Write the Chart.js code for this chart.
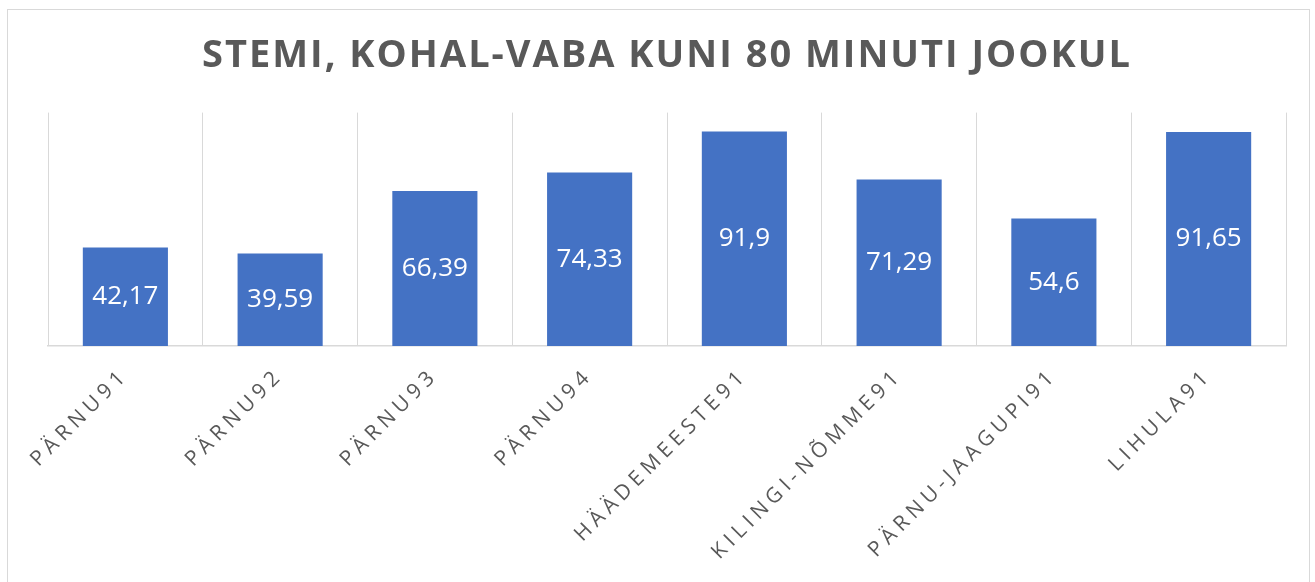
<!DOCTYPE html>
<html>
<head>
<meta charset="utf-8">
<script src="https://cdn.jsdelivr.net/npm/chart.js@4/dist/chart.umd.min.js"></script>
<style>
html, body { margin: 0; padding: 0; background: #fff; }
#wrap { position: relative; width: 1315px; height: 582px; overflow: hidden; }
#frame { position: absolute; left: 7px; top: 9px; width: 1303px; height: 620px; border: 1px solid #d9d9d9; box-sizing: border-box; }
#chart { position: absolute; left: 0; top: 0; }
</style>
</head>
<body>
<div id="wrap">
  <div id="frame"></div>
  <canvas id="chart" width="1315" height="582"></canvas>
</div>
<script>
var categories = ['PÄRNU91', 'PÄRNU92', 'PÄRNU93', 'PÄRNU94', 'HÄÄDEMEESTE91', 'KILINGI-NÕMME91', 'PÄRNU-JAAGUPI91', 'LIHULA91'];
var values = [42.17, 39.59, 66.39, 74.33, 91.9, 71.29, 54.6, 91.65];
var chartTitle = 'STEMI, KOHAL-VABA KUNI 80 MINUTI JOOKUL';

var TICK_SPACING = '5px';
var TITLE_SPACING = '2px';

Chart.defaults.font.family = "'Open Sans', sans-serif";

// letter spacing for title / axis labels, plus the value labels inside the bars
var textPlugin = {
    id: 'textPlugin',
    beforeLayout: function (chart) {
        chart.ctx.letterSpacing = TICK_SPACING;
    },
    afterLayout: function (chart) {
        var scale = chart.scales.x;
        if (!scale._spaced) {
            var orig = scale.drawLabels;
            scale.drawLabels = function (area) {
                this.ctx.save();
                this.ctx.letterSpacing = TICK_SPACING;
                orig.call(this, area);
                this.ctx.restore();
            };
            scale._spaced = true;
        }
    },
    beforeDraw: function (chart) {
        chart.ctx.letterSpacing = TITLE_SPACING;
    },
    afterDatasetsDraw: function (chart) {
        var ctx = chart.ctx;
        ctx.save();
        ctx.letterSpacing = '0px';
        ctx.font = "26px 'Open Sans'";
        ctx.fillStyle = '#ffffff';
        ctx.textAlign = 'center';
        ctx.textBaseline = 'middle';
        chart.getDatasetMeta(0).data.forEach(function (bar, i) {
            ctx.fillText(String(values[i]).replace('.', ','), bar.x, (bar.y + bar.base) / 2);
        });
        ctx.restore();
    }
};

var ctxChart = document.getElementById('chart').getContext('2d');
var barChart = new Chart(ctxChart, {
    type: 'bar',
    data: {
        labels: categories,
        datasets: [{
            data: values,
            backgroundColor: '#4472C4',
            borderWidth: 0,
            barPercentage: 0.55,
            categoryPercentage: 1
        }]
    },
    options: {
        responsive: false,
        animation: false,
        devicePixelRatio: 1,
        layout: { padding: { left: 48, right: 29, top: 0, bottom: 0 } },
        plugins: {
            legend: { display: false },
            tooltip: { enabled: false },
            title: {
                display: true,
                text: chartTitle,
                color: '#595959',
                font: { size: 38, weight: 'bold' },
                padding: { top: 33, bottom: 34 }
            }
        },
        scales: {
            x: {
                grid: { color: '#d9d9d9', drawTicks: false, offset: true },
                border: { color: '#d9d9d9', width: 1.5 },
                ticks: {
                    color: '#595959',
                    font: { size: 21 },
                    minRotation: 45,
                    maxRotation: 45,
                    padding: 17,
                    autoSkip: false
                },
                afterFit: function (scale) { scale.height = 236; }
            },
            y: { display: false, min: 0, max: 100 }
        }
    },
    plugins: [textPlugin]
});
</script>
</body>
</html>
